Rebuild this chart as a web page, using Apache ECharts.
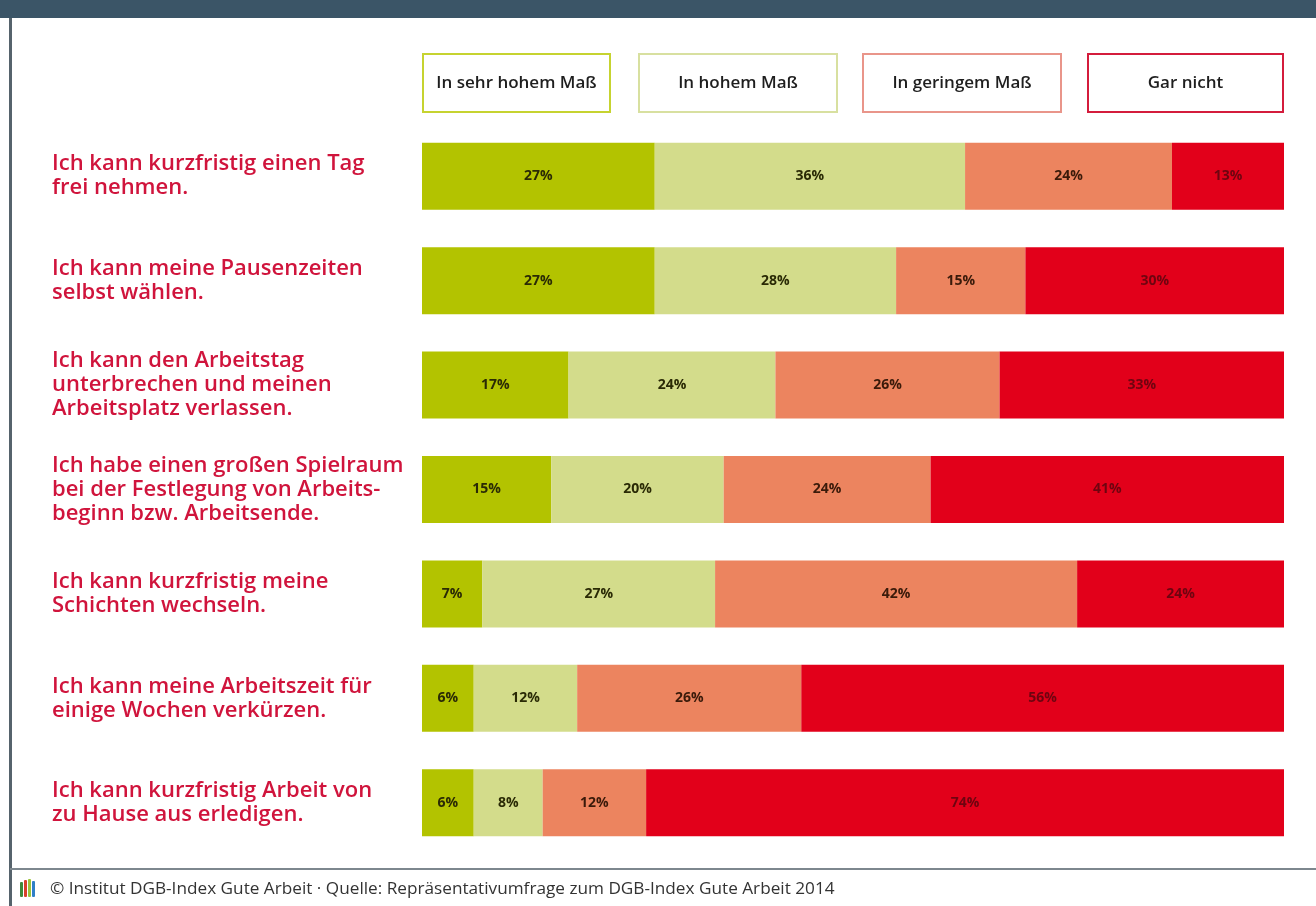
<!DOCTYPE html>
<html>
<head>
<meta charset="utf-8">
<script src="https://cdn.jsdelivr.net/npm/echarts@6/dist/echarts.min.js"></script>
<style>
  html, body { margin: 0; padding: 0; background: #ffffff; }
  #chart { width: 1316px; height: 906px; }
</style>
</head>
<body>
<div id="chart"></div>
<script>
// Statements (rows, top to bottom)
const categories = [
  'Ich kann kurzfristig einen Tag\nfrei nehmen.',
  'Ich kann meine Pausenzeiten\nselbst wählen.',
  'Ich kann den Arbeitstag\nunterbrechen und meinen\nArbeitsplatz verlassen.',
  'Ich habe einen großen Spielraum\nbei der Festlegung von Arbeits-\nbeginn bzw. Arbeitsende.',
  'Ich kann kurzfristig meine\nSchichten wechseln.',
  'Ich kann meine Arbeitszeit für\neinige Wochen verkürzen.',
  'Ich kann kurzfristig Arbeit von\nzu Hause aus erledigen.'
];

// Answer categories
const seriesNames = ['In sehr hohem Maß', 'In hohem Maß', 'In geringem Maß', 'Gar nicht'];

// Shares in percent per statement
const sehrHoch = [27, 27, 17, 15, 7, 6, 6];
const hoch     = [36, 28, 24, 20, 27, 12, 8];
const gering   = [24, 15, 26, 24, 42, 26, 12];
const garNicht = [13, 30, 33, 41, 24, 56, 74];

const sourceText = '© Institut DGB-Index Gute Arbeit · Quelle: Repräsentativumfrage zum DGB-Index Gute Arbeit 2014';

const fills   = ['#b3c300', '#d3dc8b', '#ec845f', '#e2001a'];
const borders = ['#c6d330', '#d8e0a0', '#e9958a', '#d41c3c'];
const labelColors = ['#2a2a05', '#2a2a05', '#3a1a0a', '#6e0410'];

const chart = echarts.init(document.getElementById('chart'), null, { renderer: 'canvas' });

const values = [sehrHoch, hoch, gering, garNicht];

const series = seriesNames.map((name, i) => ({
  name: name,
  type: 'bar',
  stack: 'total',
  data: values[i],
  barWidth: 67,
  itemStyle: { color: fills[i] },
  label: {
    show: true,
    position: 'inside',
    formatter: '{c}%',
    color: labelColors[i],
    fontFamily: 'Open Sans',
    fontWeight: 'bold',
    fontSize: 14
  },
  emphasis: { disabled: true }
}));

// Legend boxes drawn as outlined rectangles with centred text
const legendX = [422, 638, 862, 1087];
const legendW = [187, 198, 198, 195];
const legendGraphics = seriesNames.map((name, i) => ({
  type: 'group',
  left: legendX[i],
  top: 53,
  children: [
    {
      type: 'rect',
      shape: { x: 0, y: 0, width: legendW[i], height: 58 },
      style: { fill: '#ffffff', stroke: borders[i], lineWidth: 2 }
    },
    {
      type: 'text',
      x: legendW[i] / 2,
      y: 29,
      style: {
        text: name,
        fill: '#1e1e1e',
        font: '600 17px "Open Sans"',
        align: 'center',
        verticalAlign: 'middle'
      }
    }
  ]
}));

const frameGraphics = [
  { type: 'rect', shape: { x: 0, y: 0, width: 1316, height: 18 }, style: { fill: '#3b5567' } },
  { type: 'rect', shape: { x: 9, y: 18, width: 3, height: 888 }, style: { fill: '#56636c' } },
  { type: 'rect', shape: { x: 10, y: 868, width: 1306, height: 2 }, style: { fill: '#7d878e' } },
  // small logo strokes
  { type: 'rect', shape: { x: 20, y: 882, width: 3, height: 15, r: 1 }, style: { fill: '#3e8a3a' } },
  { type: 'rect', shape: { x: 24, y: 880, width: 3, height: 17, r: 1 }, style: { fill: '#d9402a' } },
  { type: 'rect', shape: { x: 28, y: 879, width: 3, height: 18, r: 1 }, style: { fill: '#9cc33a' } },
  { type: 'rect', shape: { x: 32, y: 881, width: 3, height: 16, r: 1 }, style: { fill: '#2f7fc8' } },
  {
    type: 'text',
    x: 50,
    y: 889,
    style: { text: sourceText, fill: '#333333', font: '17.2px "Open Sans"', verticalAlign: 'middle' }
  }
];

chart.setOption({
  backgroundColor: '#ffffff',
  animation: false,
  grid: { left: 422, right: 32, top: 124, height: 731, containLabel: false },
  xAxis: {
    type: 'value',
    min: 0,
    max: 100,
    show: false
  },
  yAxis: {
    type: 'category',
    data: categories,
    inverse: true,
    axisLine: { show: false },
    axisTick: { show: false },
    splitLine: { show: false },
    axisLabel: {
      align: 'left',
      margin: 370,
      color: '#d0143c',
      fontFamily: 'Open Sans',
      fontWeight: 600,
      fontSize: 22,
      lineHeight: 24,
      padding: [4, 0, 0, 0]
    }
  },
  series: series,
  graphic: frameGraphics.concat(legendGraphics)
});
</script>
</body>
</html>
